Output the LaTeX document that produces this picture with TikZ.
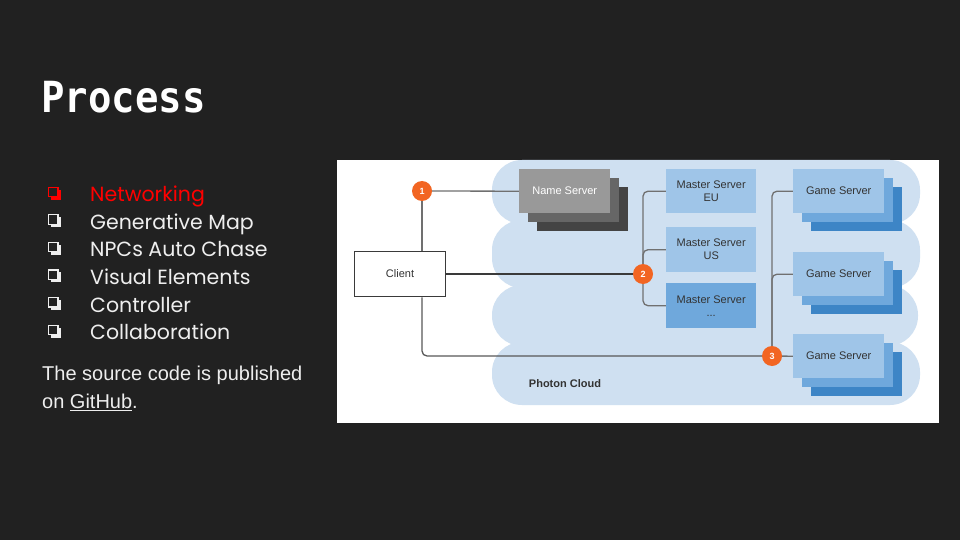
\documentclass[tikz,border=0pt]{standalone}
\usepackage{fontspec}
\setmainfont{Liberation Sans}
\setsansfont{Liberation Sans}
\newfontfamily\listfont{Poppins}
\newfontfamily\titlefont{DejaVu Sans Mono}
\usetikzlibrary{calc}
\definecolor{bgdark}{HTML}{212121}
\definecolor{cloudc}{HTML}{CFE0F1}
\definecolor{msl}{HTML}{9FC5E8}
\definecolor{msm}{HTML}{6FA8DC}
\definecolor{msd}{HTML}{3D85C6}
\definecolor{nsa}{HTML}{999999}
\definecolor{nsb}{HTML}{666666}
\definecolor{nsc}{HTML}{444444}
\definecolor{orangec}{HTML}{F26522}
\definecolor{lineg}{HTML}{707070}
\definecolor{lined}{HTML}{3A3A3A}
\definecolor{txtd}{HTML}{333333}
\definecolor{lighttxt}{HTML}{EEEEEE}
\pgfdeclarelayer{bg}
\pgfdeclarelayer{lines}
\pgfsetlayers{bg,lines,main}
\tikzset{
  srvbox/.style={inner sep=0pt, minimum width=91pt, minimum height=44pt, anchor=north west,
    font=\fontsize{11}{13}\selectfont\sffamily, text=txtd, align=center},
  numc/.style={circle, fill=orangec, text=white, inner sep=0pt, minimum size=20pt,
    font=\fontsize{9}{9}\selectfont\sffamily\bfseries},
  thinln/.style={draw=lineg, line width=1.3pt, rounded corners=5pt},
  darkln/.style={draw=lined, line width=1.8pt},
  bullettxt/.style={anchor=base west, inner sep=0pt, text=lighttxt, font=\fontsize{20.5}{24}\selectfont\listfont},
  lobe/.style={fill=cloudc, rounded corners=30pt}
}
\newcommand{\chkbox}[2]{%
  \draw[#1, line width=1.1pt] (48.7,#2-4.8) rectangle (58,#2+4.6);
  \fill[#1] (58,#2-2.5) rectangle (61,#2+7.6);
  \fill[#1] (50.5,#2+4.6) rectangle (61,#2+7.6);
}
\begin{document}
\begin{tikzpicture}[x=1pt,y=-1pt]
\useasboundingbox (0,0) rectangle (960,540);
\begin{pgfonlayer}{bg}
  \fill[bgdark] (0,0) rectangle (960,540);
  \fill[white] (337,160) rectangle (939,423);
  \begin{scope}
    \clip (337,160) rectangle (939,423);
    \fill[lobe] (492,160) rectangle (920,224);
    \fill[lobe] (492,220) rectangle (920,288);
    \fill[lobe] (492,285) rectangle (918,346);
    \fill[lobe] (492,342) rectangle (920,405);
  \end{scope}
\end{pgfonlayer}

% title
\node[anchor=base west, inner sep=0pt, text=white, font=\fontsize{39}{43}\selectfont\titlefont\bfseries]
  (title) at (41,113) {\scalebox{1}[1.1]{Process}};

% bullet list
\chkbox{red}{192}
\chkbox{lighttxt}{219.6}
\chkbox{lighttxt}{247.2}
\chkbox{lighttxt}{274.8}
\chkbox{lighttxt}{302.4}
\chkbox{lighttxt}{330}
\node[bullettxt, text=red] (b1) at (90,201.7) {Networking};
\node[bullettxt] (b2) at (90,229.3) {Generative Map};
\node[bullettxt] (b3) at (90,256.9) {NPCs Auto Chase};
\node[bullettxt] (b4) at (90,284.5) {Visual Elements};
\node[bullettxt] (b5) at (90,312.1) {Controller};
\node[bullettxt] (b6) at (90,339.7) {Collaboration};

\node[anchor=base west, inner sep=0pt, text=lighttxt, font=\fontsize{20}{24}\selectfont\sffamily]
  (src1) at (42,380) {The source code is published};
\node[anchor=base west, inner sep=0pt, text=lighttxt, font=\fontsize{20}{24}\selectfont\sffamily]
  (src2) at (42,408.5) {on \underline{GitHub}.};

% name server stack
\node[srvbox, fill=nsc] (nsc) at (537,187) {};
\node[srvbox, fill=nsb] (nsb) at (528,178) {};
\node[srvbox, fill=nsa, text=white] (ns) at (519,169) {Name Server};

% master servers
\node[srvbox, minimum width=90pt, fill=msl] (mEU) at (666,169) {Master Server\\EU};
\node[srvbox, minimum width=90pt, minimum height=45pt, fill=msl] (mUS) at (666,227) {Master Server\\US};
\node[srvbox, minimum width=90pt, minimum height=45pt, fill=msm] (mX) at (666,283) {Master Server\\...};

% game servers
\node[srvbox, fill=msd] (g1c) at (811,187) {};
\node[srvbox, fill=msm] (g1b) at (802,178) {};
\node[srvbox, fill=msl] (gs1) at (793,169) {Game Server};
\node[srvbox, fill=msd] (g2c) at (811,270) {};
\node[srvbox, fill=msm] (g2b) at (802,261) {};
\node[srvbox, fill=msl] (gs2) at (793,252) {Game Server};
\node[srvbox, fill=msd] (g3c) at (811,352) {};
\node[srvbox, fill=msm] (g3b) at (802,343) {};
\node[srvbox, fill=msl] (gs3) at (793,334) {Game Server};

% client
\node[draw=lined, line width=1.5pt, fill=white, inner sep=0pt, minimum width=91pt, minimum height=45pt,
  font=\fontsize{11}{13}\selectfont\sffamily, text=txtd] (client) at (400,274) {Client};

\node[font=\fontsize{11}{13}\selectfont\sffamily\bfseries, text=txtd] (pc) at (565,384) {Photon Cloud};

% numbered circles
\node[numc] (c1) at (422,191) {1};
\node[numc] (c2) at (643,274) {2};
\node[numc] (c3) at (772,356) {3};

% connectors
\begin{pgfonlayer}{lines}
  \draw[thinln] (c1) -- (ns.west);
  \draw[thinln] (c1) -- (client.north -| c1);
  \draw[darkln] (client.east) -- (c2);
  \draw[thinln, draw=lined!85] (client.south -| c1) |- (c3);
  \draw[thinln] (c2) |- (mEU.west);
  \draw[thinln] (c2) |- (mUS.west);
  \draw[thinln] (c2) |- (mX.west);
  \draw[thinln] (c3) |- (gs1.west);
  \draw[thinln] (c3) |- (gs2.west);
  \draw[thinln] (c3) -- (gs3.west);
\end{pgfonlayer}
\end{tikzpicture}
\end{document}
